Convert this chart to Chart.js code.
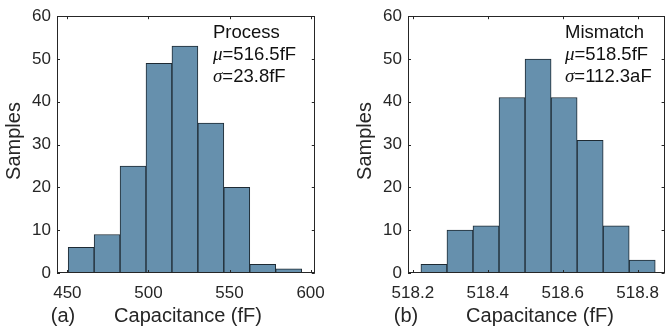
<!DOCTYPE html>
<html>
<head>
<meta charset="utf-8">
<script src="https://cdn.jsdelivr.net/npm/chart.js@4.4.1/dist/chart.umd.min.js"></script>
<style>
  html, body { margin: 0; padding: 0; background: #fff; }
  #wrap { position: relative; width: 669px; height: 329px; }
  .box { position: absolute; top: 0; height: 329px; }
</style>
</head>
<body>
<div id="wrap">
  <div class="box" style="left:0; width:335px;"><canvas id="chartA"></canvas></div>
  <div class="box" style="left:335px; width:334px;"><canvas id="chartB"></canvas></div>
</div>
<script>
// (a) process variation histogram
const processEdges = [450.5, 466.5, 482.5, 498.5, 514.5, 530.5, 546.5, 562.5, 578.5, 594.5];
const processCounts = [6, 9, 25, 49, 53, 35, 20, 2, 1];
const processTicks = [450, 500, 550, 600];

// (b) mismatch histogram
const mismatchEdges = [518.2215, 518.291, 518.3605, 518.43, 518.4995, 518.569, 518.6385, 518.708, 518.7775, 518.847];
const mismatchCounts = [2, 10, 11, 41, 50, 41, 31, 11, 3];
const mismatchTicks = [518.2, 518.4, 518.6, 518.8];

const yTicks = [0, 10, 20, 30, 40, 50, 60];

const fontSans = '"Liberation Sans", Arial, sans-serif';
const fontSerif = '"Liberation Serif", "Times New Roman", serif';
const axisColor = '#262626';
const barColor = '#6690ad';

// draws box, inward tick marks and the text labels
const decorPlugin = {
    id: 'decor',
    afterDraw(chart, args, opts) {
        const ctx = chart.ctx;
        const a = chart.chartArea;
        const xs = chart.scales.x, ys = chart.scales.y;
        ctx.save();
        ctx.strokeStyle = axisColor;
        ctx.lineWidth = 1;
        ctx.strokeRect(Math.round(a.left) + 0.5, Math.round(a.top) + 0.5,
            Math.round(a.right - a.left) - 1, Math.round(a.bottom - a.top) - 1);
        ctx.beginPath();
        opts.xticks.forEach(v => {
            const px = Math.round(xs.getPixelForValue(v)) + 0.5;
            ctx.moveTo(px, a.bottom); ctx.lineTo(px, a.bottom - 3);
            ctx.moveTo(px, a.top); ctx.lineTo(px, a.top + 3);
        });
        yTicks.forEach(v => {
            const py = Math.round(ys.getPixelForValue(v)) + 0.5;
            ctx.moveTo(a.left, py); ctx.lineTo(a.left + 3, py);
            ctx.moveTo(a.right, py); ctx.lineTo(a.right - 3, py);
        });
        ctx.stroke();

        ctx.fillStyle = axisColor;
        // y title
        ctx.save();
        ctx.translate(opts.ytitleX, 141);
        ctx.rotate(-Math.PI / 2);
        ctx.font = '20px ' + fontSans;
        ctx.textAlign = 'center';
        ctx.textBaseline = 'middle';
        ctx.fillText('Samples', 0, 0);
        ctx.restore();
        // x title and panel tag
        ctx.font = '20px ' + fontSans;
        ctx.textAlign = 'center';
        ctx.textBaseline = 'alphabetic';
        ctx.fillText('Capacitance (fF)', opts.xtitleX, 322);
        ctx.fillText(opts.tag, opts.tagX, 322);

        // statistics note
        ctx.fillStyle = '#111';
        ctx.textAlign = 'left';
        const x0 = opts.noteX;
        ctx.font = '18.5px ' + fontSans;
        ctx.fillText(opts.note[0], x0, 38);
        [[opts.note[1], opts.note[2], 60], [opts.note[3], opts.note[4], 82]].forEach(([sym, rest, y]) => {
            ctx.font = 'italic 19px ' + fontSerif;
            ctx.fillText(sym, x0, y);
            const w = ctx.measureText(sym).width;
            ctx.font = '18.5px ' + fontSans;
            ctx.fillText(rest, x0 + w, y);
        });
        ctx.restore();
    }
};

function makeHist(id, edges, counts, xmin, xmax, xticks, digits, padRight, yAxisW, deco) {
    const points = counts.map((c, i) => ({ x: (edges[i] + edges[i + 1]) / 2, y: c }));
    return new Chart(document.getElementById(id), {
        type: 'bar',
        data: {
            datasets: [{
                data: points,
                backgroundColor: barColor,
                borderColor: '#1e2a33',
                borderWidth: 1,
                barPercentage: 1,
                categoryPercentage: 1
            }]
        },
        options: {
            responsive: true,
            maintainAspectRatio: false,
            animation: false,
            layout: { padding: { top: 9, right: padRight, left: 0, bottom: 0 } },
            plugins: { legend: { display: false }, tooltip: { enabled: false }, decor: deco },
            scales: {
                x: {
                    type: 'linear',
                    min: xmin,
                    max: xmax,
                    offset: false,
                    grid: { display: false, offset: false, drawTicks: false, tickLength: 0 },
                    border: { display: false },
                    afterBuildTicks: s => { s.ticks = xticks.map(v => ({ value: v })); },
                    afterFit: s => { s.height = 56; },
                    ticks: {
                        color: axisColor,
                        font: { family: fontSans, size: 17 },
                        padding: 10,
                        maxRotation: 0,
                        autoSkip: false,
                        callback: v => Number(v).toFixed(digits)
                    }
                },
                y: {
                    min: 0,
                    max: 60,
                    grid: { display: false, drawTicks: false, tickLength: 0 },
                    border: { display: false },
                    afterBuildTicks: s => { s.ticks = yTicks.map(v => ({ value: v })); },
                    afterFit: s => { s.width = yAxisW; },
                    ticks: {
                        color: axisColor,
                        font: { family: fontSans, size: 17 },
                        padding: 6
                    }
                }
            }
        },
        plugins: [decorPlugin]
    });
}

makeHist('chartA', processEdges, processCounts, 443.6, 602.6, processTicks, 0, 15, 57, {
    xticks: processTicks, ytitleX: 14, xtitleX: 188, tag: '(a)', tagX: 63, noteX: 213,
    note: ['Process', '\u03bc', '=516.5fF', '\u03c3', '=23.8fF']
});
makeHist('chartB', mismatchEdges, mismatchCounts, 518.187, 518.872, mismatchTicks, 1, 1, 73, {
    xticks: mismatchTicks, ytitleX: 30, xtitleX: 205, tag: '(b)', tagX: 71, noteX: 230,
    note: ['Mismatch', '\u03bc', '=518.5fF', '\u03c3', '=112.3aF']
});
</script>
</body>
</html>
